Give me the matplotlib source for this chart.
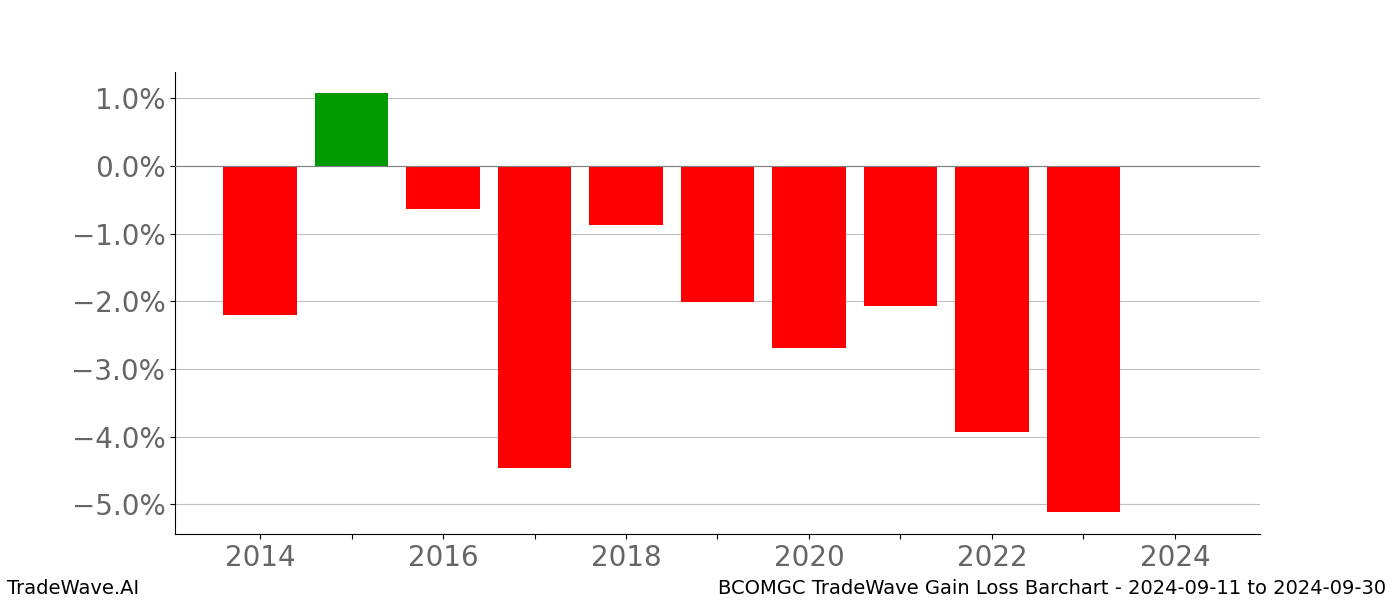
import matplotlib
matplotlib.use("Agg")
import matplotlib.pyplot as plt
from matplotlib.ticker import FuncFormatter

years = [2014, 2015, 2016, 2017, 2018, 2019, 2020, 2021, 2022, 2023]
gains = [-2.20, 1.08, -0.63, -4.46, -0.87, -2.01, -2.69, -2.07, -3.93, -5.12]

colors = ['#009900' if g > 0 else '#ff0000' for g in gains]

fig = plt.figure(figsize=(14, 6), dpi=100)
ax = fig.add_subplot(111)
ax.bar(years, gains, width=0.8, color=colors, zorder=2)
ax.axhline(0, color='gray', linewidth=0.8, zorder=3)
ax.grid(axis='y', color='#c0c0c0', linewidth=0.8, zorder=0)
ax.set_axisbelow(True)
ax.set_xlim(2013.07, 2024.93)
ax.set_ylim(-5.44, 1.39)
ax.set_yticks([1, 0, -1, -2, -3, -4, -5])
ax.yaxis.set_major_formatter(FuncFormatter(lambda v, p: f"{v:.1f}%".replace('-', '\u2212')))
ax.set_xticks(range(2014, 2025, 1))
ax.set_xticklabels([str(y) if y % 2 == 0 else '' for y in range(2014, 2025)])
ax.tick_params(axis='both', labelsize=20, labelcolor='#666666')
ax.spines['top'].set_visible(False)
ax.spines['right'].set_visible(False)

fig.text(0.005, 0.003, 'TradeWave.AI', fontsize=14, ha='left', va='bottom')
fig.text(0.99, 0.003, 'BCOMGC TradeWave Gain Loss Barchart - 2024-09-11 to 2024-09-30', fontsize=14, ha='right', va='bottom')

fig.savefig('out.png', dpi=100)
